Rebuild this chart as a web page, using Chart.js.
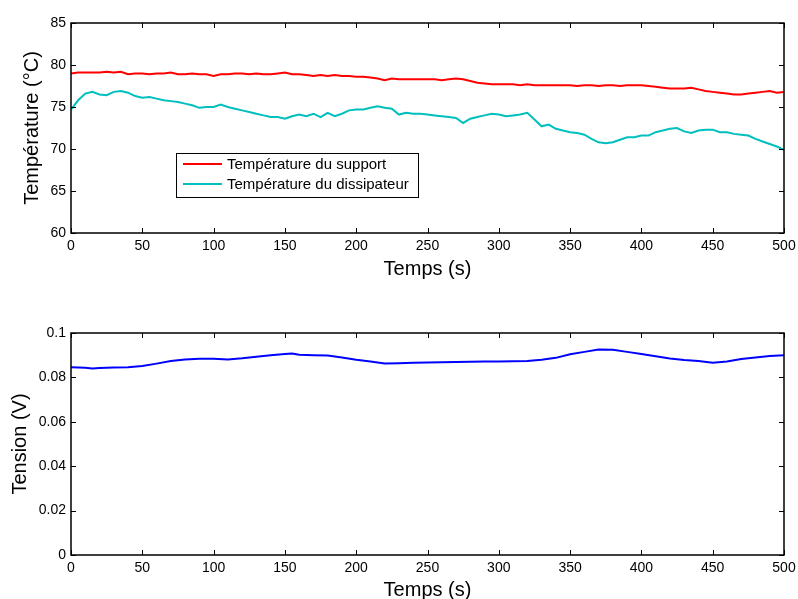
<!DOCTYPE html>
<html>
<head>
<meta charset="utf-8">
<script src="https://cdn.jsdelivr.net/npm/chart.js@4/dist/chart.umd.min.js"></script>
<style>
  html, body { margin: 0; padding: 0; background: #fff; }
  #wrap { position: relative; width: 798px; height: 599px; }
  #tempChart { position: absolute; left: 0; top: 0; }
  #tensionChart { position: absolute; left: 0; top: 290px; }
</style>
</head>
<body>
<div id="wrap">
  <canvas id="tempChart" width="798" height="290"></canvas>
  <canvas id="tensionChart" width="798" height="309"></canvas>
</div>
<script>
// temps (s), un point toutes les 5 s
var tempTimes = [
  0, 5, 10, 15, 20, 25, 30, 35, 40, 45,
  50, 55, 60, 65, 70, 75, 80, 85, 90, 95,
  100, 105, 110, 115, 120, 125, 130, 135, 140, 145,
  150, 155, 160, 165, 170, 175, 180, 185, 190, 195,
  200, 205, 210, 215, 220, 225, 230, 235, 240, 245,
  250, 255, 260, 265, 270, 275, 280, 285, 290, 295,
  300, 305, 310, 315, 320, 325, 330, 335, 340, 345,
  350, 355, 360, 365, 370, 375, 380, 385, 390, 395,
  400, 405, 410, 415, 420, 425, 430, 435, 440, 445,
  450, 455, 460, 465, 470, 475, 480, 485, 490, 495,
  500
];
var tempSupport = [
  79.0, 79.1, 79.1, 79.1, 79.1, 79.2, 79.1, 79.2, 78.9, 79.0,
  79.0, 78.9, 79.0, 79.0, 79.1, 78.9, 78.9, 79.0, 78.9, 78.9,
  78.7, 78.9, 78.9, 79.0, 79.0, 78.9, 79.0, 78.9, 78.9, 79.0,
  79.1, 78.9, 78.9, 78.8, 78.7, 78.8, 78.7, 78.8, 78.7, 78.7,
  78.6, 78.6, 78.5, 78.4, 78.2, 78.4, 78.3, 78.3, 78.3, 78.3,
  78.3, 78.3, 78.2, 78.3, 78.4, 78.3, 78.1, 77.9, 77.8, 77.7,
  77.7, 77.7, 77.7, 77.6, 77.7, 77.6, 77.6, 77.6, 77.6, 77.6,
  77.6, 77.5, 77.6, 77.6, 77.5, 77.6, 77.6, 77.5, 77.6, 77.6,
  77.6, 77.5, 77.4, 77.3, 77.2, 77.2, 77.2, 77.3, 77.1, 76.9,
  76.8, 76.7, 76.6, 76.5, 76.5, 76.6, 76.7, 76.8, 76.9, 76.7,
  76.8
];
var tempDissipateur = [
  74.7, 75.8, 76.6, 76.8, 76.5, 76.4, 76.8, 76.9, 76.7, 76.3,
  76.1, 76.2, 76.0, 75.8, 75.7, 75.6, 75.4, 75.2, 74.9, 75.0,
  75.0, 75.3, 75.0, 74.8, 74.6, 74.4, 74.2, 74.0, 73.8, 73.8,
  73.6, 73.9, 74.1, 73.9, 74.2, 73.8, 74.3, 73.9, 74.2, 74.6,
  74.7, 74.7, 74.9, 75.1, 74.9, 74.8, 74.1, 74.3, 74.2, 74.2,
  74.1, 74.0, 73.9, 73.8, 73.7, 73.1, 73.6, 73.8, 74.0, 74.2,
  74.1, 73.9, 74.0, 74.1, 74.3, 73.5, 72.7, 72.9, 72.4, 72.2,
  72.0, 71.9, 71.7, 71.2, 70.8, 70.7, 70.8, 71.1, 71.4, 71.4,
  71.6, 71.6, 72.0, 72.2, 72.4, 72.5, 72.1, 71.9, 72.2, 72.3,
  72.3, 72.0, 72.0, 71.8, 71.7, 71.6, 71.2, 70.9, 70.6, 70.3,
  69.9
];
var tensionTimes = [
  0, 10, 15, 20, 30, 40, 50, 60, 70, 80,
  90, 100, 110, 120, 130, 140, 150, 155, 160, 170,
  180, 190, 200, 210, 220, 230, 240, 250, 260, 270,
  280, 290, 300, 310, 320, 330, 340, 350, 360, 370,
  380, 390, 400, 410, 420, 430, 440, 450, 460, 470,
  480, 490, 500
];
var tension = [
  0.0846, 0.0843, 0.0840, 0.0842, 0.0845, 0.0846, 0.0851, 0.0862, 0.0874, 0.0881,
  0.0884, 0.0884, 0.0881, 0.0886, 0.0893, 0.0900, 0.0905, 0.0908, 0.0902, 0.0900,
  0.0899, 0.0890, 0.0880, 0.0872, 0.0863, 0.0864, 0.0866, 0.0867, 0.0868, 0.0869,
  0.0871, 0.0872, 0.0872, 0.0873, 0.0874, 0.0880, 0.0888, 0.0904, 0.0915, 0.0926,
  0.0925, 0.0915, 0.0905, 0.0895, 0.0885, 0.0878, 0.0874, 0.0866, 0.0872, 0.0883,
  0.0890, 0.0896, 0.0900
];
var seriesLabels = ["Température du support", "Température du dissipateur", "Tension"];

function pts(xs, ys) {
  return xs.map(function (x, i) { return {x: x, y: ys[i]}; });
}

var FONT = "'Liberation Sans', Arial, sans-serif";

// cadre + graduations vers l'intérieur (style MATLAB)
var matlabBox = {
  id: 'matlabBox',
  afterDraw: function (chart) {
    var ctx = chart.ctx, a = chart.chartArea, sx = chart.scales.x, sy = chart.scales.y;
    ctx.save();
    ctx.strokeStyle = '#000';
    ctx.lineWidth = 1;
    ctx.beginPath();
    sx.ticks.forEach(function (t) {
      var px = Math.round(sx.getPixelForValue(t.value)) + 0.5;
      ctx.moveTo(px, a.bottom); ctx.lineTo(px, a.bottom - 5);
      ctx.moveTo(px, a.top); ctx.lineTo(px, a.top + 5);
    });
    sy.ticks.forEach(function (t) {
      var py = Math.round(sy.getPixelForValue(t.value)) + 0.5;
      ctx.moveTo(a.left, py); ctx.lineTo(a.left + 5, py);
      ctx.moveTo(a.right, py); ctx.lineTo(a.right - 5, py);
    });
    ctx.stroke();
    ctx.lineWidth = 1.5;
    ctx.strokeRect(a.left, a.top, a.right - a.left, a.bottom - a.top);
    ctx.restore();
  }
};

// légende encadrée dans la zone de tracé
var boxLegend = {
  id: 'boxLegend',
  afterDraw: function (chart) {
    var ctx = chart.ctx, a = chart.chartArea;
    var x0 = a.left + 105, y0 = a.top + 130, w = 242, h = 44;
    ctx.save();
    ctx.fillStyle = '#fff';
    ctx.fillRect(x0, y0, w, h);
    ctx.strokeStyle = '#000';
    ctx.lineWidth = 1;
    ctx.strokeRect(x0 + 0.5, y0 + 0.5, w, h);
    ctx.font = '15px ' + FONT;
    ctx.textBaseline = 'middle';
    chart.data.datasets.forEach(function (ds, i) {
      var y = y0 + 11 + i * 20;
      ctx.strokeStyle = ds.borderColor;
      ctx.lineWidth = 2;
      ctx.beginPath();
      ctx.moveTo(x0 + 7, y); ctx.lineTo(x0 + 46, y);
      ctx.stroke();
      ctx.fillStyle = '#000';
      ctx.fillText(ds.label, x0 + 51, y + 1);
    });
    ctx.restore();
  }
};

function xAxis(height, titlePad) {
  return {
    type: 'linear', min: 0, max: 500,
    grid: {display: false, drawTicks: false},
    border: {display: false},
    ticks: {stepSize: 50, padding: 5, color: '#000', font: {size: 14, family: FONT}},
    title: {display: true, text: 'Temps (s)', color: '#000',
            font: {size: 20, family: FONT}, padding: {top: 0, bottom: titlePad}},
    afterFit: function (s) { s.height = height; s.paddingRight = 0; s.paddingLeft = 0; }
  };
}

new Chart(document.getElementById('tempChart'), {
  type: 'line',
  data: {
    datasets: [
      {label: seriesLabels[0], data: pts(tempTimes, tempSupport), borderColor: '#ff0000',
       borderWidth: 2, pointRadius: 0, tension: 0},
      {label: seriesLabels[1], data: pts(tempTimes, tempDissipateur), borderColor: '#00bfbf',
       borderWidth: 2, pointRadius: 0, tension: 0}
    ]
  },
  options: {
    responsive: false,
    animation: false,
    layout: {padding: {left: 0, right: 14, top: 23, bottom: 0}},
    plugins: {legend: {display: false}, tooltip: {enabled: false}},
    scales: {
      x: xAxis(57, 9),
      y: {
        min: 60, max: 85,
        grid: {display: false, drawTicks: false},
        border: {display: false},
        ticks: {stepSize: 5, padding: 5, color: '#000', font: {size: 14, family: FONT}},
        title: {display: true, text: 'Température (°C)', color: '#000',
                font: {size: 20, family: FONT}, padding: {top: 20, bottom: 0}},
        afterFit: function (s) { s.width = 71; }
      }
    }
  },
  plugins: [matlabBox, boxLegend]
});

new Chart(document.getElementById('tensionChart'), {
  type: 'line',
  data: {
    datasets: [
      {label: seriesLabels[2], data: pts(tensionTimes, tension), borderColor: '#0000ff',
       borderWidth: 2, pointRadius: 0, tension: 0}
    ]
  },
  options: {
    responsive: false,
    animation: false,
    layout: {padding: {left: 0, right: 14, top: 43, bottom: 0}},
    plugins: {legend: {display: false}, tooltip: {enabled: false}},
    scales: {
      x: xAxis(44, -3),
      y: {
        min: 0, max: 0.1,
        grid: {display: false, drawTicks: false},
        border: {display: false},
        ticks: {stepSize: 0.02, padding: 5, color: '#000', font: {size: 14, family: FONT},
                callback: function (v) { return String(+v.toFixed(2)); }},
        title: {display: true, text: 'Tension (V)', color: '#000',
                font: {size: 20, family: FONT}, padding: {top: 8, bottom: 0}},
        afterFit: function (s) { s.width = 71; }
      }
    }
  },
  plugins: [matlabBox]
});
</script>
</body>
</html>
